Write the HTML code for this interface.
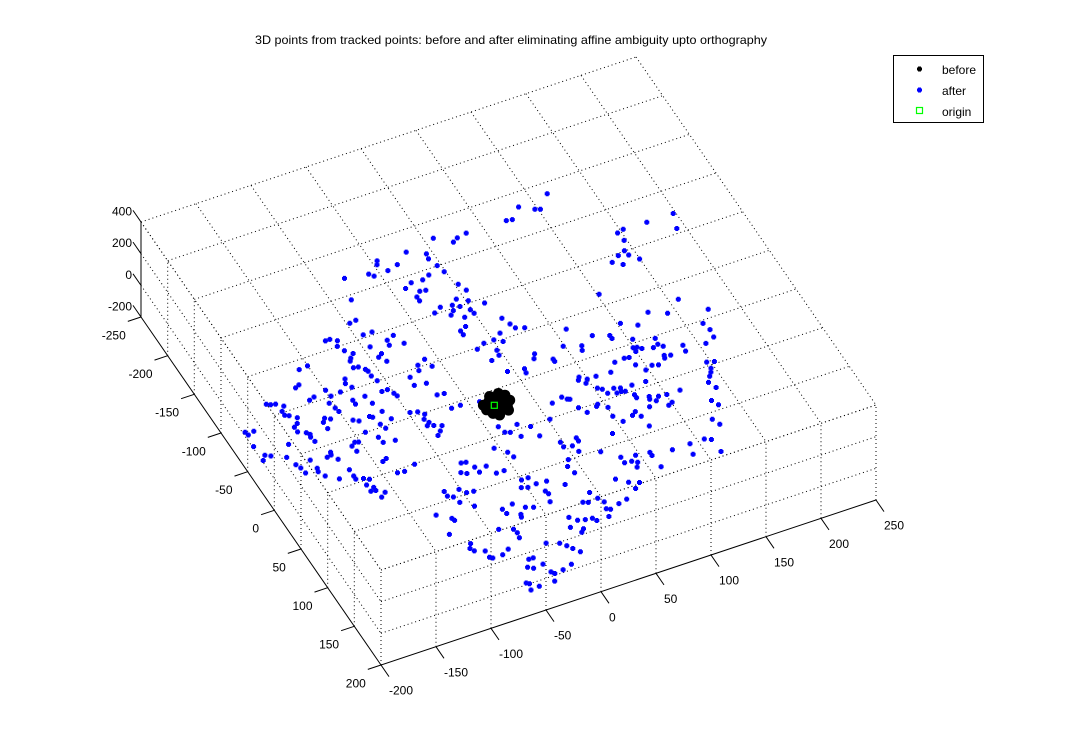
<!DOCTYPE html>
<html><head><meta charset="utf-8"><style>
html,body{margin:0;padding:0;background:#fff;}
svg{display:block;font-family:"Liberation Sans",Arial,sans-serif;}
</style></head><body>
<svg id="chart" width="1087" height="749" viewBox="0 0 1087 749" xmlns="http://www.w3.org/2000/svg">
<rect x="0" y="0" width="1087" height="749" fill="#fff"/>
<text x="511" y="44" font-size="12" text-anchor="middle" textLength="512" lengthAdjust="spacingAndGlyphs">3D points from tracked points: before and after eliminating affine ambiguity upto orthography</text>
<g id="grid"></g>
<g id="after"></g>
<g id="before"></g>
<g id="origin"></g>
<g id="axes"></g>
<g>
<rect x="893.5" y="55.5" width="90" height="67" fill="#fff" stroke="#000" stroke-width="1"/>
<g><path d="M918,66.5h3v1h1v3h-1v1h-3v-1h-1v-3h1z" fill="#000"/><text x="942" y="74" font-size="12">before</text></g>
<g><path d="M918,87.5h3v1h1v3h-1v1h-3v-1h-1v-3h1z" fill="#00f"/><text x="942" y="95" font-size="12">after</text></g>
<g><rect x="916.5" y="107.5" width="6" height="6" fill="none" stroke="#0f0" stroke-width="1.2"/><text x="942" y="116" font-size="12">origin</text></g>
</g>
</svg>
<script>
const xTicks=[-200,-150,-100,-50,0,50,100,150,200,250];
const yTicks=[-250,-200,-150,-100,-50,0,50,100,150,200];
const zTicks=[-200,0,200,400];
const zTickLabels=["-200","0","200","400"];
const afterX=[40,58,53,67,13,27,26,-13,-15,0,-10,-26,-23,29,31,-46,18,11,1,-6,3,8,-2,-2,35,38,-52,26,34,20,25,18,31,32,3,10,14,23,45,19,13,13,-65,-59,-53,-61,-46,-39,-47,-35,-92,-88,-83,-86,-83,-78,-82,-84,-62,-57,-61,-57,-28,-36,-38,-26,16,24,-81,-77,-76,-85,-76,-74,-97,-99,-96,-126,-118,-138,-134,-48,-49,-39,-117,-116,-107,-91,-76,-71,-68,-67,-37,-31,-134,-129,-121,-102,-102,-89,-168,-165,-161,-156,-160,-160,-157,-119,-118,-86,-66,-60,-56,-33,-25,-9,-152,-155,-159,-159,-132,-135,-128,-135,-112,-108,-98,-96,-94,-92,-83,-59,-57,-60,-55,-49,-53,-57,-198,-197,-191,-153,-151,-152,-151,-172,-122,-119,-126,-125,-109,-102,-101,-91,-199,-195,-191,-199,-180,-164,-150,-145,-146,-143,-111,-107,-177,-175,-174,-163,-164,-161,-152,-140,-140,-140,-134,-130,-135,-135,-131,-131,-130,-125,-89,-100,-106,-54,-50,-59,-55,-46,-45,-37,-81,-81,-77,-69,-65,-59,-75,-66,
147,119,130,134,103,108,230,206,225,179,185,180,175,168,176,182,160,167,134,190,207,50,53,55,62,41,33,39,30,29,21,161,175,135,147,196,198,197,188,92,108,121,121,136,153,81,95,93,132,135,138,147,152,155,170,169,132,151,150,156,120,124,56,53,67,67,111,125,137,142,179,185,179,177,174,170,173,27,41,40,103,130,77,75,82,79,90,124,112,85,88,90,97,102,101,104,97,109,109,119,118,126,122,133,145,133,129,163,166,154,157,114,44,54,57,59,61,65,75,77,83,82,87,101,97,103,104,34,16,7,-8,-6,-2,4,18,73,44,
-22,-14,-12,-33,-26,-18,-12,-22,-17,-9,0,-6,-5,-8,12,25,23,27,39,37,30,30,44,55,67,67,73,77,74,79,91,91,92,109,125,122,138,143,144,52,60,68,62,26,29,16,20,32,30,33,28,42,50,-2,3,9,15,17,-6,3,0,-32,-22,-18,-15,-11,-24,-33,-45,-43,-41,-45,-53,-49,-58,-54,-67,-65,-59,-67,-49,-48,-49,-60,-63,-70,-81,-79,-81,-89,-91,-88,-99,-47,-46,-37,-36,-37,-29,-23,-99,-89,-88];
const afterY=[-197,-189,-186,-191,-192,-183,-177,-193,-189,-182,-179,-182,-178,-167,-158,-186,-160,-157,-158,-154,-146,-145,-141,-136,-140,-131,-161,-125,-119,-120,-116,-114,-109,-104,-118,-122,-110,-103,-111,-93,-90,-85,-137,-138,-120,-120,-106,-109,-100,-97,-127,-127,-123,-117,-110,-104,-100,-97,-105,-94,-91,-84,-73,-69,-63,-63,-65,-69,-88,-83,-80,-89,-74,-67,-80,-75,-69,-106,-107,-88,-90,-59,-49,-47,-75,-67,-68,-55,-54,-54,-48,-44,-31,-30,-70,-72,-60,-55,-50,-45,-81,-79,-78,-73,-68,-63,-61,-53,-48,-33,-22,-20,-15,-12,-12,-9,-56,-50,-47,-41,-46,-42,-43,-34,-34,-31,-32,-30,-20,-14,-22,-10,-5,-2,0,3,8,12,-59,-55,-57,-37,-34,-31,-25,-31,-10,-9,-7,0,-17,-7,0,2,-41,-28,-25,-23,-18,-7,-4,-8,-5,2,20,18,-7,-2,5,4,8,15,23,17,25,29,31,34,39,47,44,48,57,53,34,38,37,49,50,59,62,58,65,61,73,79,82,76,82,83,90,99,
-204,-200,-192,-190,-190,-189,-139,-139,-122,-138,-140,-128,-117,-114,-111,-103,-109,-103,-80,-47,-26,-89,-80,-74,-71,-74,-69,-64,-57,-51,-48,-44,-36,-42,-34,-13,-4,5,9,-55,-39,-33,-29,-21,-14,-38,-32,-27,-12,-11,-8,-5,-7,-3,3,10,-7,7,10,9,-4,-3,-40,-35,-28,-25,-3,7,13,15,29,31,37,41,45,51,59,-31,-28,-23,6,16,0,3,5,9,5,28,27,18,21,27,24,26,30,31,30,38,42,45,48,48,52,49,49,59,61,71,78,91,99,56,18,15,19,20,32,40,37,35,42,53,62,56,59,63,76,34,35,28,24,32,34,42,48,71,63,
45,54,61,72,72,88,88,96,98,97,98,108,112,121,108,99,90,83,78,70,68,62,67,86,99,106,107,110,115,102,104,108,123,109,109,121,109,112,128,120,128,132,137,125,134,133,135,140,148,150,157,147,145,144,150,152,153,157,155,161,164,163,168,173,178,184,194,197,184,195,198,206,174,174,182,185,198,200,206,207,137,142,148,132,156,160,158,160,150,146,142,137,120,112,118,110,124,127,118,121,95,104,107];
const beforeX=[-8,1,9,13,14,8,-1,-5,-8,3,8,-1,3,9,8,4,-2];
const beforeY=[-4,-11,-11,-7,0,10,12,8,2,-1,1,-3,7,6,-6,-7,-6];
const originX=[0],originY=[0],originZ=[0];
const pointZ=0;

// projection axis functions (MATLAB-like 3D view)
const X0=381,Y0=665;
function P(x,y,z){return [X0+(x+200)*1.1+(y-200)*0.5333, Y0-(x+200)*0.3667+(y-200)*0.7733-(z+200)*0.1583];}
const NS="http://www.w3.org/2000/svg";
function line(g,a,b,dotted,name){const l=document.createElementNS(NS,'line');
l.setAttribute('x1',a[0].toFixed(1));l.setAttribute('y1',a[1].toFixed(1));l.setAttribute('x2',b[0].toFixed(1));l.setAttribute('y2',b[1].toFixed(1));
l.setAttribute('stroke','#000');l.setAttribute('stroke-width','1');if(dotted)l.setAttribute('stroke-dasharray','1 3');


g.appendChild(l);return l;}
const grid=document.getElementById('grid');
const xmin=-200,xmax=250,ymin=-250,ymax=200,zmin=-200,zmax=400;
xTicks.forEach(x=>{line(grid,P(x,ymin,zmax),P(x,ymax,zmax),true,'grid-line-x');line(grid,P(x,ymax,zmin),P(x,ymax,zmax),true,'grid-line-x-wall');});
yTicks.forEach(y=>{line(grid,P(xmin,y,zmax),P(xmax,y,zmax),true,'grid-line-y');if(y>ymin)line(grid,P(xmin,y,zmin),P(xmin,y,zmax),true,'grid-line-y-wall');});
zTicks.forEach(z=>{if(z>zmin){line(grid,P(xmin,ymin,z),P(xmin,ymax,z),true,'grid-line-z-left');line(grid,P(xmin,ymax,z),P(xmax,ymax,z),true,'grid-line-z-front');}});

function marker(cx,cy){return 'M'+(cx-1.5).toFixed(1)+','+(cy-2.5).toFixed(1)+'h3v1h1v3h-1v1h-3v-1h-1v-3h1z';}
const ag=document.getElementById('after');
for(let i=0;i<afterX.length;i++){const p=P(afterX[i],afterY[i],pointZ);const m=document.createElementNS(NS,'path');
m.setAttribute('d',marker(p[0],p[1]));m.setAttribute('fill','#00f');


ag.appendChild(m);}
const bg=document.getElementById('before');
for(let i=0;i<beforeX.length;i++){const p=P(beforeX[i],beforeY[i],pointZ);const c=document.createElementNS(NS,'circle');
c.setAttribute('cx',p[0].toFixed(1));c.setAttribute('cy',p[1].toFixed(1));c.setAttribute('r','5.5');c.setAttribute('fill','#000');


bg.appendChild(c);}
const og=document.getElementById('origin');
for(let i=0;i<originX.length;i++){const p=P(originX[i],originY[i],originZ[i]);const r=document.createElementNS(NS,'rect');
r.setAttribute('x',(p[0]-3).toFixed(1));r.setAttribute('y',(p[1]-3).toFixed(1));r.setAttribute('width','6');r.setAttribute('height','6');
r.setAttribute('fill','none');r.setAttribute('stroke','#0f0');r.setAttribute('stroke-width','1.2');


og.appendChild(r);}

const ax=document.getElementById('axes');
line(ax,P(xmin,ymin,zmin),P(xmin,ymin,zmax),false,'z-axis-line');
line(ax,P(xmin,ymin,zmin),P(xmin,ymax,zmin),false,'y-axis-line');
line(ax,P(xmin,ymax,zmin),P(xmax,ymax,zmin),false,'x-axis-line');
function label(x,y,txt,anchor,name){const t=document.createElementNS(NS,'text');t.setAttribute('x',x.toFixed(1));t.setAttribute('y',y.toFixed(1));
t.setAttribute('font-size','12');t.setAttribute('text-anchor',anchor);t.textContent=txt;


ax.appendChild(t);}
xTicks.forEach(x=>{const a=P(x,ymax,zmin),b=P(x,ymax+15,zmin);line(ax,a,b,false,'x-tick');label(b[0],b[1]+18,String(x),'start','x-tick-label');});
yTicks.forEach(y=>{const a=P(xmin,y,zmin),b=P(xmin-12,y,zmin);line(ax,a,b,false,'y-tick');label(b[0]-2,b[1]+18,String(y),'end','y-tick-label');});
zTicks.forEach((z,i)=>{const a=P(xmin,ymin,z),b=P(xmin,ymin-15,z);line(ax,a,b,false,'z-tick');label(b[0]-1,b[1]+5,zTickLabels[i],'end','z-tick-label');});
</script>
</body></html>
